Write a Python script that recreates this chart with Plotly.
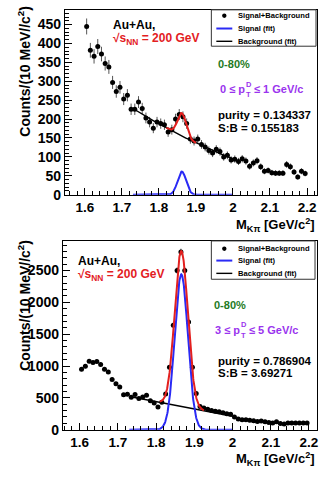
import numpy as np
import plotly.graph_objects as go

W, H = 325, 479

# ---------------- data ----------------
mass_bins = [1.605, 1.615, 1.625, 1.635, 1.645, 1.655, 1.665, 1.675, 1.685, 1.695,
             1.705, 1.715, 1.725, 1.735, 1.745, 1.755, 1.765, 1.775, 1.785, 1.795,
             1.805, 1.815, 1.825, 1.835, 1.845, 1.855, 1.865, 1.875, 1.885, 1.895,
             1.905, 1.915, 1.925, 1.935, 1.945, 1.955, 1.965, 1.975, 1.985, 1.995,
             2.005, 2.015, 2.025, 2.035, 2.045, 2.055, 2.065, 2.075, 2.085, 2.095,
             2.105, 2.115, 2.125, 2.135, 2.145, 2.155, 2.165, 2.175, 2.185, 2.195]

counts_low_pt = [445, 382, 366, 392, 372, 347, 338, 297, 273, 284,
                 253, 263, 226, 226, 245, 228, 203, 192, 176, 192,
                 188, 185, 166, 172, 200, 212, 206, 188, 147, 142,
                 147, 133, 126, 117, 110, 120, 114, 100, 104, 92,
                 94, 88, 95, 89, 75, 84, 90, 74, 62, 64,
                 58, 57, 57, 57, 80, 74, 60, 47, 62, 56]

counts_high_pt = [950, 995, 1075, 1055, 1070, 1025, 950, 905, 790, 720,
                  672, 548, 558, 508, 553, 490, 515, 540, 455, 420,
                  357, 430, 560, 980, 1640, 2500, 2790, 2500, 1690, 980,
                  568, 365, 340, 320, 300, 290, 280, 268, 252, 243,
                  200, 168, 158, 155, 150, 140, 130, 138, 125, 115,
                  105, 125, 98, 90, 104, 104, 104, 104, 104, 104]

# fit parameters (Gaussian signal + polynomial background around the D0 mass)
fit_low = dict(mean=1.862, sigma=0.0115, amp=61, ref=1.86, b0=156, b1=-497, b2=438,
               sb_range=(1.82, 1.90), range=(1.73, 2.0))
fit_high = dict(mean=1.866, sigma=0.0172, amp=2440, ref=1.866, b0=366, b1=-1148, b2=0,
                sb_range=(1.81, 1.925), range=(1.73, 2.0))

pt_low_text = ["0 \u2264 p", "\u2264 1 GeV/c"]
pt_high_text = ["3 \u2264 p", "\u2264 5 GeV/c"]
purity_text = ["purity = 0.134337", "purity = 0.786904"]
sb_text = ["S:B = 0.155183", "S:B = 3.69271"]
legend_labels = ["Signal+Background", "Signal (fit)", "Background (fit)"]

x_ticks = [1.6, 1.7, 1.8, 1.9, 2.0, 2.1, 2.2]
x_ticktext = ["1.6", "1.7", "1.8", "1.9", "2", "2.1", "2.2"]

# ---------------- helpers ----------------
def bkg(x, f):
    d = x - f["ref"]
    return f["b0"] + f["b1"] * d + f["b2"] * d * d

def sig(x, f):
    return f["amp"] * np.exp(-0.5 * ((x - f["mean"]) / f["sigma"]) ** 2)

def px(x):
    return x / W

def py(y):
    return 1 - y / H

FONT = "Liberation Sans"
RED = "#e3201f"
BLUE = "#2a2af5"
GREEN = "#237a23"
PURPLE = "#9a34ee"

fig = go.Figure()

panels = [
    dict(box=(65, 318, 10, 198), xr=[1.546, 2.227], yr=[0, 489], dtick=50, mdt=10,
         counts=counts_low_pt, fit=fit_low, xa="x", ya="y"),
    dict(box=(63, 318, 245, 437), xr=[1.556, 2.221], yr=[0, 2965], dtick=500, mdt=100,
         counts=counts_high_pt, fit=fit_high, xa="x2", ya="y2"),
]

annotations = []
shapes = []

for k, p in enumerate(panels):
    f = p["fit"]
    cnt = np.array(p["counts"], dtype=float)
    xs_full = np.linspace(f["range"][0], f["range"][1], 400)
    xs_sb = np.linspace(f["sb_range"][0], f["sb_range"][1], 200)

    fig.add_trace(go.Scatter(
        x=mass_bins, y=cnt, mode="markers",
        marker=dict(color="black", size=5),
        error_y=dict(type="data", array=np.sqrt(cnt), color="#555555", thickness=1, width=0,
                     visible=True),
        xaxis=p["xa"], yaxis=p["ya"], showlegend=False))
    fig.add_trace(go.Scatter(
        x=xs_full, y=bkg(xs_full, f), mode="lines", line=dict(color="black", width=1.4),
        xaxis=p["xa"], yaxis=p["ya"], showlegend=False))
    fig.add_trace(go.Scatter(
        x=xs_full, y=sig(xs_full, f), mode="lines", line=dict(color=BLUE, width=2),
        xaxis=p["xa"], yaxis=p["ya"], showlegend=False))
    fig.add_trace(go.Scatter(
        x=xs_sb, y=sig(xs_sb, f) + bkg(xs_sb, f), mode="lines", line=dict(color=RED, width=2),
        xaxis=p["xa"], yaxis=p["ya"], showlegend=False))

    l, r, t, b = p["box"]
    axx = dict(domain=[px(l), px(r)], range=p["xr"], tickvals=x_ticks, ticktext=x_ticktext,
               ticks="inside", ticklen=7, tickcolor="black", showline=True, linecolor="black",
               linewidth=1, mirror=True, showgrid=False, zeroline=False,
               tickfont=dict(family=FONT, size=13.5, color="black", weight="bold"),
               minor=dict(dtick=0.02, ticks="inside", ticklen=4, tickcolor="black", showgrid=False),
               anchor=p["ya"])
    axy = dict(domain=[py(b), py(t)], range=p["yr"], dtick=p["dtick"], tick0=0,
               ticks="inside", ticklen=7, tickcolor="black", showline=True, linecolor="black",
               linewidth=1, mirror=True, showgrid=False, zeroline=False,
               tickfont=dict(family=FONT, size=14, color="black", weight="bold"),
               minor=dict(dtick=p["mdt"], ticks="inside", ticklen=4, tickcolor="black", showgrid=False),
               anchor=p["xa"])
    if k == 0:
        fig.update_layout(xaxis=axx, yaxis=axy)
    else:
        fig.update_layout(xaxis2=axx, yaxis2=axy)

# ---------------- text ----------------
def ann(text, x, y, size, color="black", xanchor="left", yanchor="middle", angle=0, bold=True):
    annotations.append(dict(text=text, x=px(x), y=py(y), xref="paper", yref="paper",
                            xanchor=xanchor, yanchor=yanchor, showarrow=False, textangle=angle,
                            font=dict(family=FONT, size=size, color=color,
                                      weight="bold" if bold else "normal")))

au_x = [111, 76]
au_y = [[25, 40], [265, 280]]
ytitle_y = [72, 310]
xtitle_y = [229, 467]
cent_pos = [(217, 65), (213, 310)]
pt_pos = [(219, 91), (214, 336)]
pur_y = [(117, 130), (367, 379)]
for k in range(2):
    ann("Counts/(10 MeV//c<sup>2</sup>)", 24, ytitle_y[k], 14, angle=-90,
        xanchor="center", yanchor="middle")
    ann("M<sub>K\u03c0</sub> [GeV/c<sup>2</sup>]", 318, xtitle_y[k], 13, xanchor="right")
    ann("Au+Au,", au_x[k], au_y[k][0], 12)
    ann("\u221as<sub>NN</sub> = 200 GeV", au_x[k], au_y[k][1], 12, color=RED)
    ann("0-80%", cent_pos[k][0], cent_pos[k][1], 11, color=GREEN)
    # p_T^D with stacked super/subscript
    parts = pt_low_text if k == 0 else pt_high_text
    x0, yc = pt_pos[k]
    ann(parts[0], x0, yc, 11, color=PURPLE)
    xs = x0 + 2.272 * 11 + 0.5
    ann("D", xs, yc - 5.5, 7.5, color=PURPLE)
    ann("T", xs, yc + 5.0, 7.5, color=PURPLE)
    ann(parts[1], xs + 8, yc, 11, color=PURPLE)
    ann(purity_text[k], 217, pur_y[k][0], 11.5)
    ann(sb_text[k], 217, pur_y[k][1], 11.5)

# ---------------- legends ----------------
legend_boxes = [(212, 317, 10, 47, [16, 29, 42]), (212, 316, 245, 284, [253, 265, 278])]
for (l, r, t, b, rows) in legend_boxes:
    shapes.append(dict(type="rect", xref="paper", yref="paper", x0=px(l), x1=px(r),
                       y0=py(b), y1=py(t), line=dict(color="#333333", width=1),
                       fillcolor="white", layer="above"))
    cx, cy = 225, rows[0]
    shapes.append(dict(type="circle", xref="paper", yref="paper", x0=px(cx - 2.2), x1=px(cx + 2.2),
                       y0=py(cy + 2.2), y1=py(cy - 2.2), fillcolor="black",
                       line=dict(color="black", width=0), layer="above"))
    shapes.append(dict(type="line", xref="paper", yref="paper", x0=px(217), x1=px(233),
                       y0=py(rows[1]), y1=py(rows[1]), line=dict(color=BLUE, width=2), layer="above"))
    shapes.append(dict(type="line", xref="paper", yref="paper", x0=px(217), x1=px(233),
                       y0=py(rows[2]), y1=py(rows[2]), line=dict(color="black", width=1.4), layer="above"))
    for lab, ry in zip(legend_labels, rows):
        ann(lab, 237, ry, 7.6)

fig.update_layout(
    width=W, height=H, margin=dict(l=0, r=0, t=0, b=0),
    paper_bgcolor="white", plot_bgcolor="white",
    annotations=annotations, shapes=shapes, showlegend=False,
    font=dict(family=FONT, color="black"),
)

fig.write_html("out.html", config={"displayModeBar": False},
               post_script="document.body.style.margin='0px';document.body.style.padding='0px';")
